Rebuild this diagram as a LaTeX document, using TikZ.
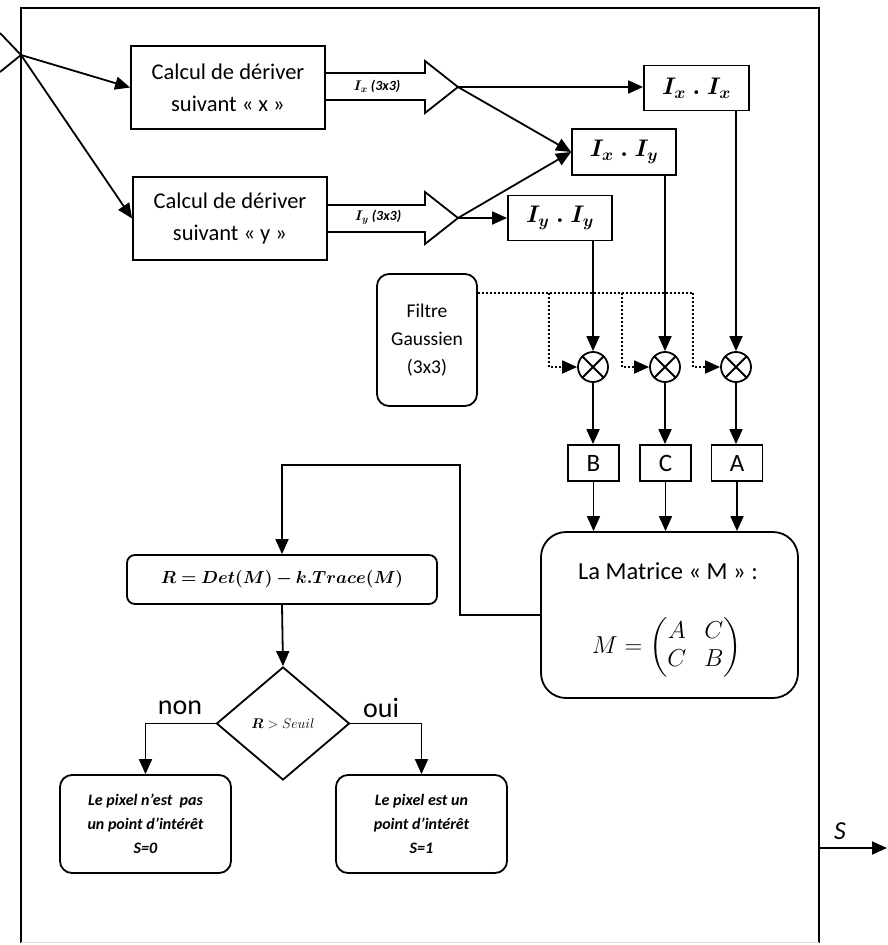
\RequirePackage{fix-cm}
\documentclass[tikz,border=0pt]{standalone}
\usepackage{fontspec}
\setmainfont{Carlito}
\usepackage{amsmath}
\usepackage{bm}
\usetikzlibrary{arrows.meta,shapes.geometric,calc}
\tikzset{
  blk/.style={draw, inner sep=1pt, align=center},
  rbx/.style={draw, rounded corners=12pt, inner sep=1pt, align=center},
  mul/.style={draw, circle, minimum size=30pt, inner sep=0pt},
  arr/.style={-{Triangle[length=15pt,width=13pt]}},
  dots/.style={dash pattern=on 2pt off 2pt, line width=1.8pt},
  big/.style={font=\fontsize{22.5}{32}\selectfont},
  prod/.style={blk, font=\fontsize{24}{28}\selectfont},
  letter/.style={blk, minimum width=51pt, minimum height=36pt, font=\fontsize{25}{28}\selectfont},
  outb/.style={rbx, minimum width=171pt, minimum height=98pt, font=\fontsize{16}{24}\selectfont\bfseries\itshape},
  lab/.style={font=\fontsize{14}{16}\selectfont\bfseries\itshape},
}
\begin{document}
\begin{tikzpicture}[x=1pt,y=-1pt,line width=1.8pt]
\useasboundingbox (0,0) rectangle (887,945);
% frame
\draw (21,943) -- (21,8) -- (819,8) -- (819,943);
\draw[gray!25,line width=1pt] (21,942) -- (819,942);
% input
\coordinate (j) at (21,55);
\coordinate (in1) at (0,33);
\coordinate (in2) at (0,72);
\draw (in1) -- (j) -- (in2);
% derivative boxes
\node[blk,big,minimum width=194pt,minimum height=83pt] (cx) at (228,87.5) {Calcul de dériver\\suivant «~x~»};
\node[blk,big,minimum width=194pt,minimum height=83pt] (cy) at (230,218.5) {Calcul de dériver\\suivant «~y~»};
\draw[arr] (j) -- (cx.west);
\draw[arr] (j) -- (cy.west);
% hollow arrows
\coordinate (tx) at (458,87);
\coordinate (ty) at (458,218);
\draw (cx.east |- 0,73) -- (425,73) -- (425,61) -- (tx) -- (425,113) -- (425,100) -- (cx.east |- 0,100);
\draw (cy.east |- 0,205) -- (425,205) -- (425,192) -- (ty) -- (425,244) -- (425,232) -- (cy.east |- 0,232);
\node[lab] (lx) at (377,86) {$\bm{I_x}$ (3x3)};
\node[lab] (ly) at (378,217) {$\bm{I_y}$ (3x3)};
% product boxes
\node[prod,minimum width=105pt,minimum height=45pt] (xx) at (696.5,88) {$\bm{I_x\;.\;I_x}$};
\node[prod,minimum width=104pt,minimum height=46pt] (xy) at (624,152) {$\bm{I_x\;.\;I_y}$};
\node[prod,minimum width=104pt,minimum height=45pt] (yy) at (560,218) {$\bm{I_y\;.\;I_y}$};
\draw[arr] (tx) -- (tx -| xx.west);
\draw[arr] (tx) -- (xy.west);
\draw[arr] (ty) -- (xy.west);
\draw[arr] (ty) -- (ty -| yy.west);
% gaussian filter
\node[rbx,minimum width=100pt,minimum height=132pt,font=\fontsize{19.5}{28}\selectfont] (g) at (427,340) {Filtre\\Gaussien\\(3x3)};
% multipliers
\node[mul] (m1) at (593,367) {};
\node[mul] (m2) at (665,367) {};
\node[mul] (m3) at (736,367) {};
\foreach \m in {m1,m2,m3}
  \draw (\m.north east) -- (\m.south west) (\m.north west) -- (\m.south east);
\draw[arr] (yy.south -| m1) -- (m1.north);
\draw[arr] (xy.south -| m2) -- (m2.north);
\draw[arr] (xx.south -| m3) -- (m3.north);
% dotted
\coordinate (go) at (g.east |- 0,293);
\coordinate (d1) at (549,293);
\coordinate (d2) at (622,293);
\coordinate (d3) at (693,293);
\draw[dots] (go) -- (d3);
\draw[dots,arr] (d1) |- (m1.west);
\draw[dots,arr] (d2) |- (m2.west);
\draw[dots,arr] (d3) |- (m3.west);
% B C A
\node[letter] (bB) at (593.5,463) {B};
\node[letter] (bC) at (665.5,463) {C};
\node[letter] (bA) at (737,463) {A};
\draw[arr] (m1.south) -- (m1 |- bB.north);
\draw[arr] (m2.south) -- (m2 |- bC.north);
\draw[arr] (m3.south) -- (m3 |- bA.north);
% matrix
\node[draw,rounded corners=25pt,minimum width=257pt,minimum height=166pt] (mat) at (669.5,615) {};
\node[font=\fontsize{24.5}{28}\selectfont] (mtitle) at (668,571) {La Matrice «~M~» :};
\node[font=\fontsize{24.5}{28}\selectfont] (mform) at (667,647) {\setlength{\arraycolsep}{9pt}$M=\begin{pmatrix} A & C\\ C & B\end{pmatrix}$};
\draw[arr] (bB.south) -- (bB.south |- mat.north);
\draw[arr] (bC.south) -- (bC.south |- mat.north);
\draw[arr] (bA.south) -- (bA.south |- mat.north);
% R box
\node[draw,rounded corners=8pt,minimum width=310pt,minimum height=49pt,font=\fontsize{17.5}{20}\selectfont] (r) at (282,579.5) {$\bm{R = Det(M) - k.Trace(M)}$};
\coordinate (c1) at (460,465);
\draw[arr] (mat.west) -| (c1) -| (r.north);
% decision
\node[draw,diamond,minimum width=133pt,minimum height=113pt,inner sep=0pt,font=\fontsize{14}{18}\selectfont] (d) at (283,723.5) {$\bm{R} > Seuil$};
\draw[arr] (r.south) -- (d.north);
% outputs
\node[outb] (o0) at (145.5,824) {Le pixel n’est~ pas\\un point d’intérêt\\S=0};
\node[outb] (o1) at (421.5,824) {Le pixel est un\\point d’intérêt\\S=1};
\draw[arr] (d.west) -| (o0.north);
\draw[arr] (d.east) -| (o1.north);
\node[font=\fontsize{28}{30}\selectfont] (non) at (180,708) {non};
\node[font=\fontsize{28}{30}\selectfont] (oui) at (381,708) {oui};
% S output
\coordinate (so) at (819,848);
\coordinate (se) at (887,848);
\draw[arr] (so) -- (se);
\node[font=\fontsize{26}{28}\selectfont\itshape] (sl) at (840,831) {S};
\end{tikzpicture}
\end{document}
